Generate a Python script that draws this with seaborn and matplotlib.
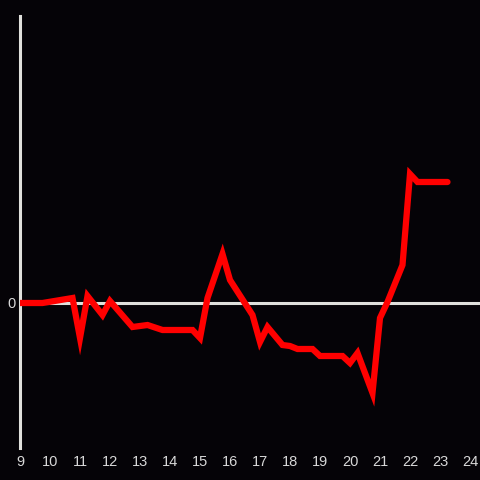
import matplotlib
matplotlib.use("Agg")
import matplotlib.pyplot as plt
import seaborn as sns
import pandas as pd

hours = [9, 9.75, 10.75, 11, 11.25, 11.75, 12, 12.75, 13.25, 13.75, 14.75, 15, 15.25,
         15.75, 16, 16.75, 17, 17.25, 17.75, 18, 18.25, 18.75, 19, 19.75, 20, 20.25,
         20.75, 21, 21.25, 21.75, 22, 22.25, 23.25]
values = [0, 0, 5, -35, 7, -12, 2, -24, -22, -27, -27, -35, 5,
          49, 23, -12, -39, -24, -42, -43, -46, -46, -53, -53, -60, -50,
          -90, -15, 1, 38, 129, 121, 121]
xticks = list(range(9, 25))

df = pd.DataFrame({"hour": hours, "value": values})

sns.set_style("dark")
plt.rcParams["font.family"] = ["Liberation Sans", "DejaVu Sans"]
bg = "#050307"
fg = "#e0e0dc"
fig = plt.figure(figsize=(4.8, 4.8), dpi=100, facecolor=bg)
ax = fig.add_axes([20/480, 32/480, 460/480, 432/480])
ax.set_facecolor(bg)
ax.grid(False)

ax.axhline(0, color=fg, lw=2.2, zorder=1)
sns.lineplot(data=df, x="hour", y="value", ax=ax, color="#ff0000", lw=4.5,
             solid_joinstyle="miter", zorder=3)

ax.set_xlim(9, 9 + 460/30)
ax.set_ylim(-145, 287)
ax.set_xticks(xticks)
ax.set_xticklabels([str(t) for t in xticks])
ax.set_yticks([0])
ax.set_yticklabels(["0"])
ax.tick_params(colors="#d8d8d8", labelsize=10.5, length=0)
ax.tick_params(axis="x", pad=5)
ax.tick_params(axis="y", pad=3)
ax.set_xlabel("")
ax.set_ylabel("")
for s in ["top", "right", "bottom"]:
    ax.spines[s].set_visible(False)
ax.spines["left"].set_color(fg)
ax.spines["left"].set_linewidth(2.2)

fig.savefig("out.png", dpi=100, facecolor=bg)
